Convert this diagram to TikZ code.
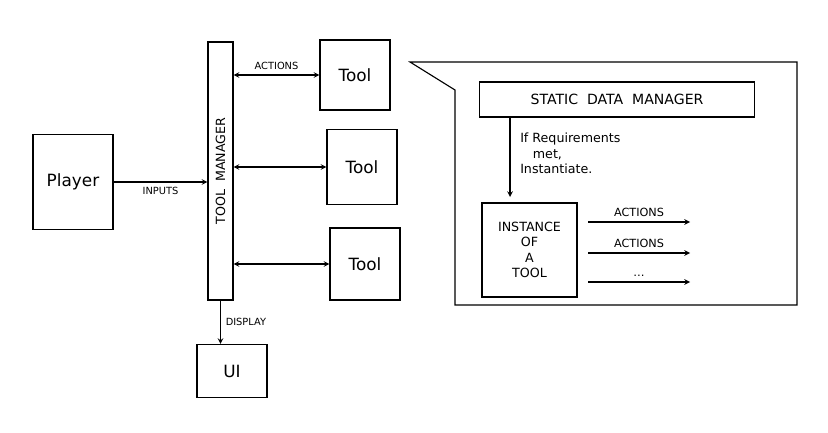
\documentclass[tikz,border=0pt]{standalone}
\usepackage{fontspec}
\setmainfont{DejaVu Sans}
\usetikzlibrary{positioning}
\begin{document}
\begin{tikzpicture}[x=0.025cm,y=-0.025cm,>=stealth,thick,
  box/.style={draw,inner sep=0pt},
  lbl/.style={font=\scriptsize},
  big/.style={font=\large}]
  \useasboundingbox (0,0) rectangle (828,433);

% left part
  \node[box,minimum width=2cm,minimum height=2.375cm,big] (player) at (73,182) {Player};
  \node[box,minimum width=0.625cm,minimum height=6.45cm] (mgr) at (220.5,171) {};
  \node[rotate=90,font=\small] at (mgr) {TOOL\ \ MANAGER};
  \node[box,minimum width=1.75cm,minimum height=1.75cm,big] (tool1) at (355,75) {Tool};
  \node[box,minimum width=1.75cm,minimum height=1.875cm,big] (tool2) at (362,167) {Tool};
  \node[box,minimum width=1.75cm,minimum height=1.8cm,big] (tool3) at (365,264) {Tool};
  \node[box,minimum width=1.75cm,minimum height=1.325cm,big] (ui) at (232,371) {UI};

  \draw[->] (player.east) -- node[lbl,below] {INPUTS} (player.east -| mgr.west);
  \draw[<->] (mgr.east |- tool1) -- node[lbl,above] {ACTIONS} (tool1.west);
  \draw[<->] (mgr.east |- tool2) -- (tool2.west);
  \draw[<->] (mgr.east |- tool3) -- (tool3.west);
  \draw[->] (mgr.south) -- node[lbl,right] {DISPLAY} (mgr.south |- ui.north);

% callout
  \draw (455,90) -- (410,62) -- (797,62) -- (797,305) -- (455,305) -- cycle;
  \node[box,minimum width=6.875cm,minimum height=0.875cm,font=\normalsize] (sdm) at (617,99.5) {STATIC\ \ DATA\ \ MANAGER};
  \node[box,minimum width=2.375cm,minimum height=2.35cm,align=center,font=\small] (inst) at (529.5,250) {INSTANCE\\OF\\A\\TOOL};
  \draw[->] (sdm.south -| 510,0) -- (510,197);
  \node[font=\small,align=left,anchor=north west] at (515,128) {If Requirements\\\quad met,\\Instantiate.};
  \coordinate (e1) at (690,222);
  \coordinate (e2) at (690,253);
  \coordinate (e3) at (690,282);
  \draw[->] (588,222) -- node[font=\footnotesize,above] {ACTIONS} (e1);
  \draw[->] (588,253) -- node[font=\footnotesize,above] {ACTIONS} (e2);
  \draw[->] (588,282) -- node[font=\footnotesize,above] {\dots} (e3);
\end{tikzpicture}
\end{document}
